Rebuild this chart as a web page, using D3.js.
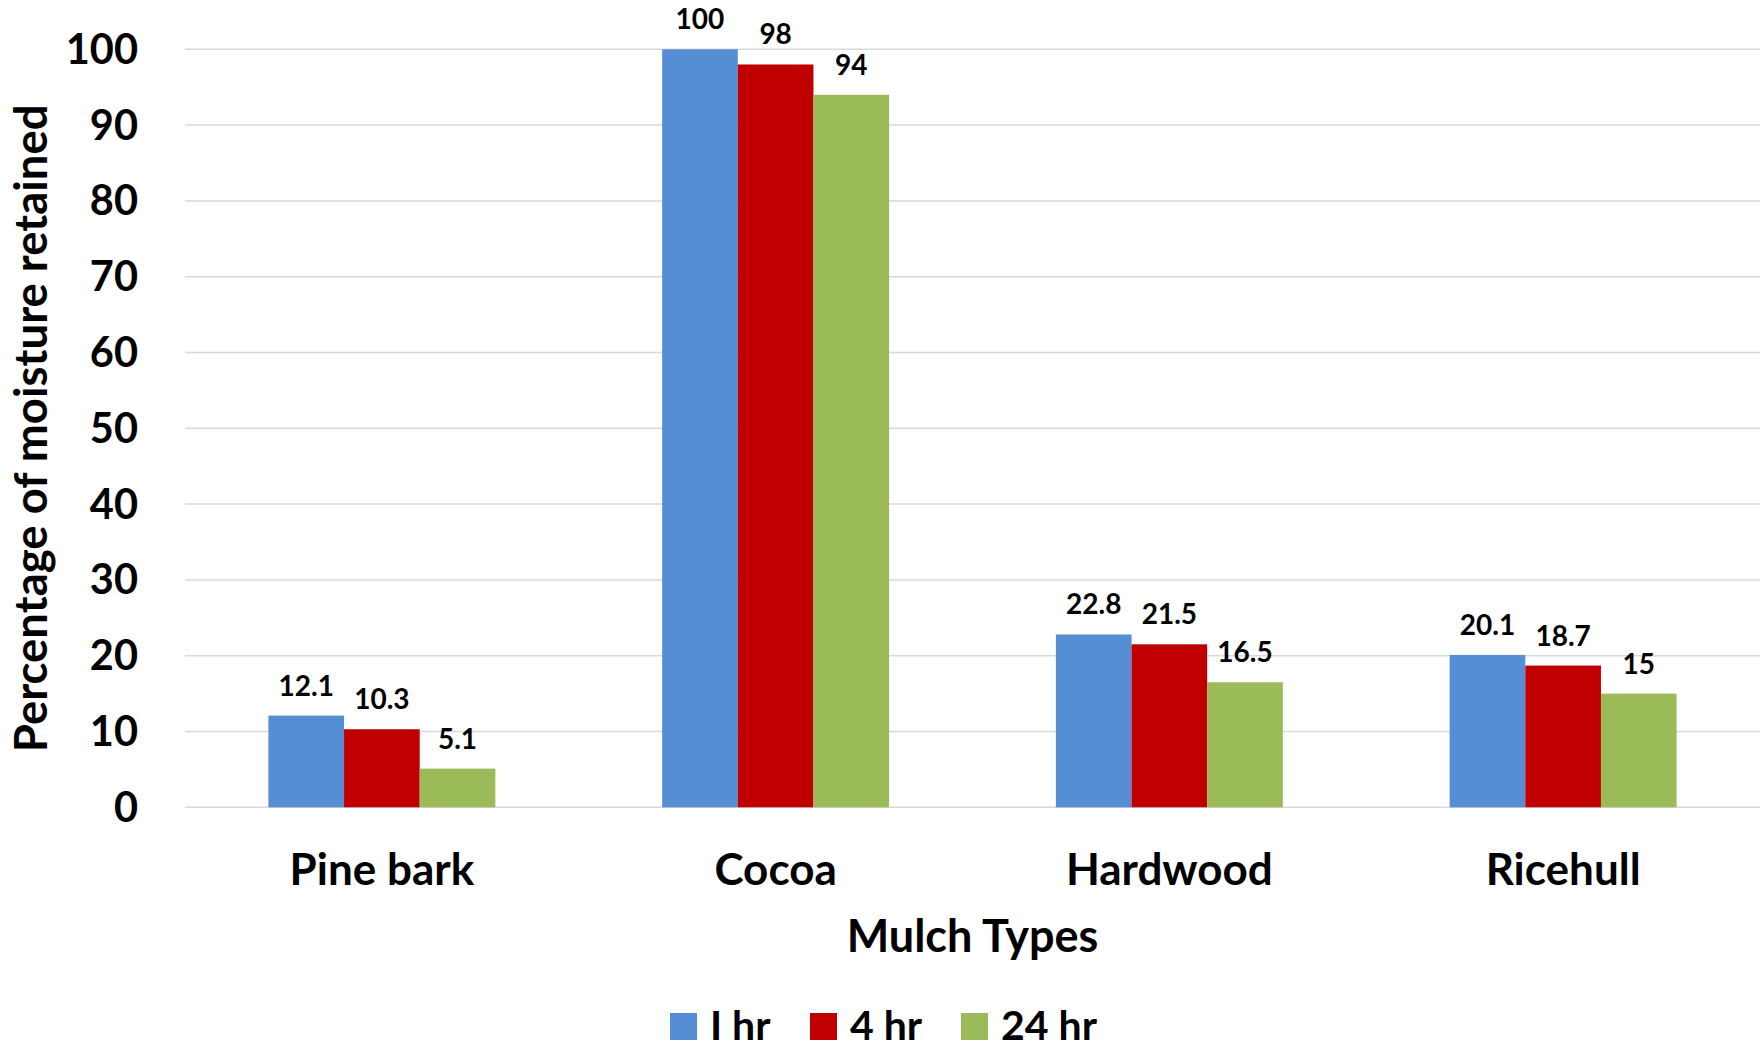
<!DOCTYPE html>
<html>
<head>
<meta charset="utf-8">
<script src="https://cdn.jsdelivr.net/npm/d3@7"></script>
<style>
  html, body { margin: 0; padding: 0; background: #fff; }
  svg { display: block; }
  text { font-family: Lato, "Open Sans", sans-serif; font-weight: bold; fill: #000; }
</style>
</head>
<body>
<svg id="chart" width="1763" height="1051"></svg>
<script>
const categories = ["Pine bark", "Cocoa", "Hardwood", "Ricehull"];
const seriesNames = ["I hr", "4 hr", "24 hr"];
const seriesColors = ["#558ED5", "#C00000", "#9BBB59"];
const values1hr = [12.1, 100, 22.8, 20.1];
const values4hr = [10.3, 98, 21.5, 18.7];
const values24hr = [5.1, 94, 16.5, 15];
const yTicks = [0, 10, 20, 30, 40, 50, 60, 70, 80, 90, 100];
const xTitle = "Mulch Types";
const yTitle = "Percentage of moisture retained";

const seriesValues = [values1hr, values4hr, values24hr];

const svg = d3.select("#chart");
const plot = { left: 185, right: 1760, top: 49.3, bottom: 807.3 };

const x = d3.scaleBand()
  .domain(categories)
  .range([plot.left, plot.right])
  .paddingInner(0.4236)
  .paddingOuter(0.2118);

const xs = d3.scaleBand()
  .domain(seriesNames)
  .range([0, x.bandwidth()]);

const y = d3.scaleLinear().domain([0, 100]).range([plot.bottom, plot.top]);

// gridlines
svg.append("g").selectAll("line")
  .data(yTicks)
  .join("line")
  .attr("x1", plot.left).attr("x2", plot.right)
  .attr("y1", d => y(d)).attr("y2", d => y(d))
  .attr("stroke", "#D9D9D9").attr("stroke-width", 1.5);

// y tick labels
svg.append("g").selectAll("text")
  .data(yTicks)
  .join("text")
  .attr("x", 138)
  .attr("y", d => y(d) + 14.5)
  .attr("text-anchor", "end")
  .attr("font-size", 41.5)
  .text(d => d);

// bars
const groups = svg.append("g").selectAll("g")
  .data(categories)
  .join("g")
  .attr("transform", c => `translate(${x(c)},0)`);

groups.each(function(c, ci) {
  const g = d3.select(this);
  seriesNames.forEach((s, si) => {
    const v = seriesValues[si][ci];
    g.append("rect")
      .attr("x", xs(s))
      .attr("width", xs.bandwidth())
      .attr("y", y(v))
      .attr("height", y(0) - y(v))
      .attr("fill", seriesColors[si]);
    g.append("text")
      .attr("x", xs(s) + xs.bandwidth() / 2)
      .attr("y", y(v) - 20)
      .attr("text-anchor", "middle")
      .attr("font-size", 28)
      .text(v);
  });
});

// category labels
svg.append("g").selectAll("text")
  .data(categories)
  .join("text")
  .attr("x", c => x(c) + x.bandwidth() / 2)
  .attr("y", 885)
  .attr("text-anchor", "middle")
  .attr("font-size", 44)
  .text(c => c);

// x title
svg.append("text")
  .attr("x", (plot.left + plot.right) / 2)
  .attr("y", 952)
  .attr("text-anchor", "middle")
  .attr("font-size", 45)
  .text(xTitle);

// y title
svg.append("text")
  .attr("transform", `translate(47,${(plot.top + plot.bottom) / 2}) rotate(-90)`)
  .attr("text-anchor", "middle")
  .attr("font-size", 45.5)
  .text(yTitle);

// legend
const legendX = [670, 810, 961];
const leg = svg.append("g").selectAll("g")
  .data(seriesNames)
  .join("g")
  .attr("transform", (d, i) => `translate(${legendX[i]},1013)`);
leg.append("rect")
  .attr("width", 27).attr("height", 27)
  .attr("fill", (d, i) => seriesColors[i]);
leg.append("text")
  .attr("x", 40)
  .attr("y", 27)
  .attr("font-size", 41)
  .text(d => d);
</script>
</body>
</html>
